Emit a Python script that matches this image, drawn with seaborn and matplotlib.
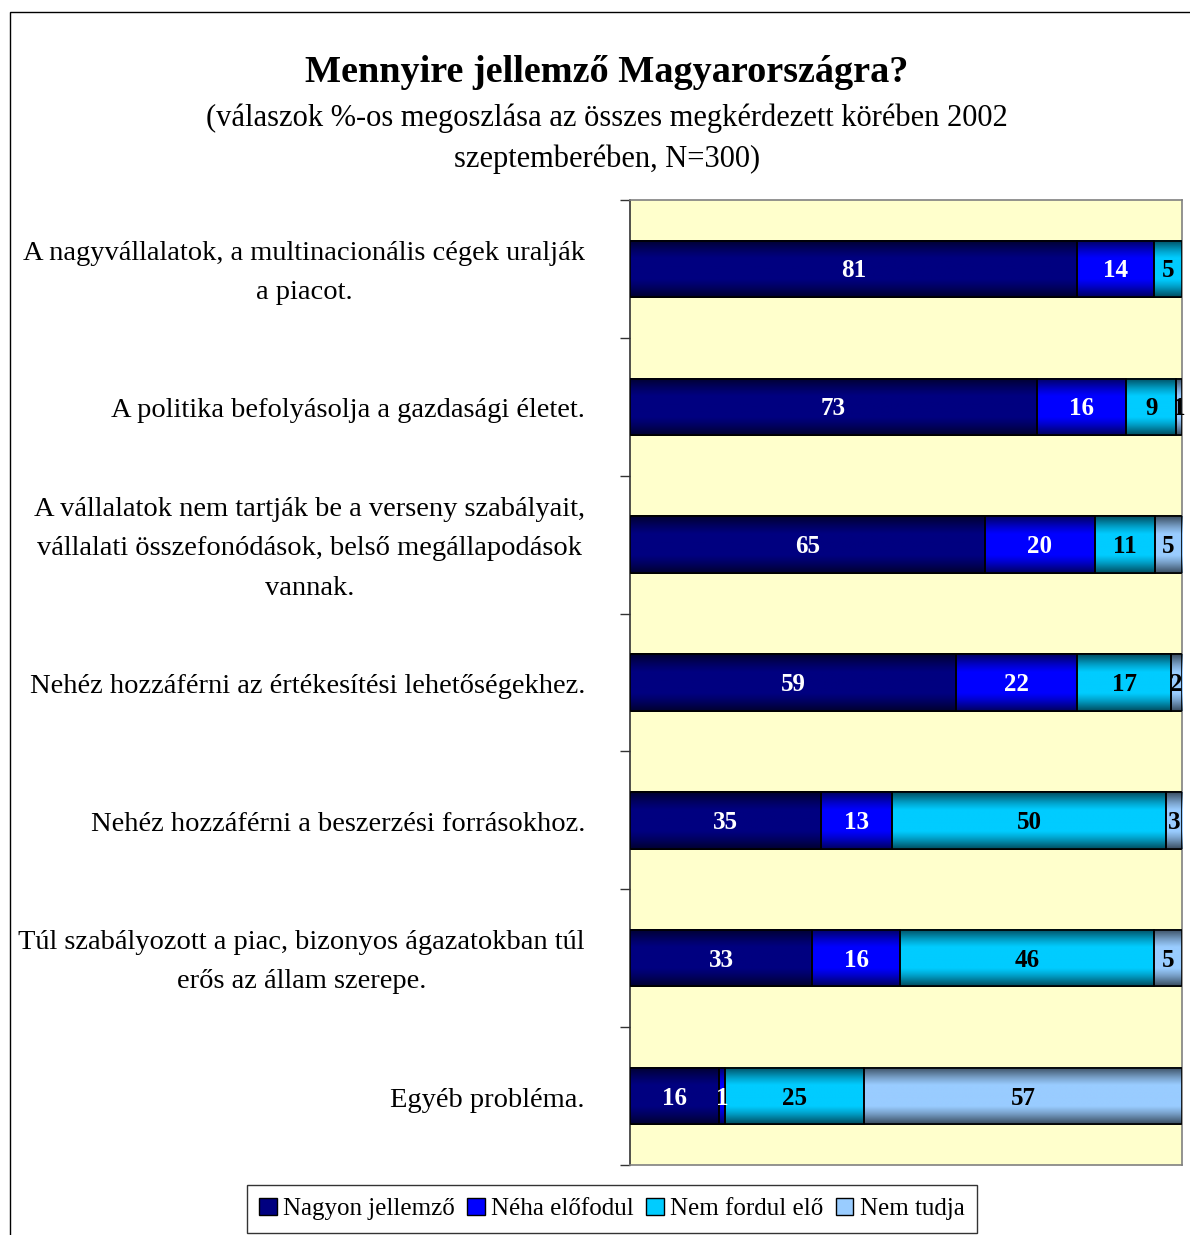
import numpy as np
import pandas as pd
import matplotlib
matplotlib.use("Agg")
import matplotlib.pyplot as plt
import matplotlib.colors as mcolors
import matplotlib.transforms as mtransforms
from matplotlib.patches import Rectangle
import seaborn as sns

categories = [
    "A nagyvállalatok, a multinacionális cégek uralják\na piacot.",
    "A politika befolyásolja a gazdasági életet.",
    "A vállalatok nem tartják be a verseny szabályait,\nvállalati összefonódások, belső megállapodások\nvannak.",
    "Nehéz hozzáférni az értékesítési lehetőségekhez.",
    "Nehéz hozzáférni a beszerzési forrásokhoz.",
    "Túl szabályozott a piac, bizonyos ágazatokban túl\nerős az állam szerepe.",
    "Egyéb probléma.",
]
series = ["Nagyon jellemző", "Néha előfodul", "Nem fordul elő", "Nem tudja"]
nagyon = [81, 73, 65, 59, 35, 33, 16]
neha = [14, 16, 20, 22, 13, 16, 1]
nem_fordul = [5, 9, 11, 17, 50, 46, 25]
nem_tudja = [0, 1, 5, 2, 3, 5, 57]

colors = ["#000080", "#0000FF", "#00CCFF", "#99CCFF"]
text_colors = ["white", "white", "black", "black"]

sns.set_style("white")
plt.rcParams['font.family'] = ['Liberation Serif', 'DejaVu Serif']
plt.rcParams['text.color'] = 'black'

vals = np.array([nagyon, neha, nem_fordul, nem_tudja], dtype=float).T
pct = vals / vals.sum(axis=1, keepdims=True) * 100  # 100% stacked like Excel
cum = pct.cumsum(axis=1)
labels_short = [f"c{i}" for i in range(len(categories))]

fig = plt.figure(figsize=(11.9, 12.35), dpi=100)
ax = fig.add_axes([630 / 1190, 1 - 1165 / 1235, 552 / 1190, 965 / 1235])
ax.set_facecolor("#FFFFCC")

bar_w = 0.41
for i in range(3, -1, -1):
    df = pd.DataFrame({"cat": labels_short, "val": cum[:, i]})
    sns.barplot(data=df, x="val", y="cat", orient="h", color=colors[i],
                width=bar_w, edgecolor="black", linewidth=1.2, ax=ax,
                saturation=1)

# gradient shading like the original Excel bars
t = np.linspace(0, 1, 64)
shade = 0.38 + 0.62 * np.clip(np.sin(np.pi * t) * 1.2, 0, 1)
for r in range(len(categories)):
    left = 0
    for i in range(4):
        w = pct[r, i]
        if w > 0:
            base = np.array(mcolors.to_rgb(colors[i]))
            img = (shade[:, None] * base[None, :])[:, None, :]
            ax.imshow(img, extent=[left, left + w, r + bar_w / 2, r - bar_w / 2],
                      aspect="auto", zorder=3, interpolation="bilinear")
            ax.add_patch(Rectangle((left, r - bar_w / 2), w, bar_w, fill=False,
                                   edgecolor="black", linewidth=1.2, zorder=4))
            if vals[r, i] > 0:
                ax.text(left + w / 2, r + 0.015, f"{vals[r, i]:.0f}", ha="center",
                        va="center", fontsize=18, fontweight="bold",
                        color=text_colors[i], zorder=5)
        left += w

ax.set_xlim(0, 100)
ax.set_ylim(len(categories) - 0.5, -0.5)
ax.set_xlabel("")
ax.set_ylabel("")
ax.set_xticks([])
ax.set_yticks(range(len(categories)))
ax.set_yticklabels([])
ax.tick_params(axis="y", which="major", length=0)

# category labels, right aligned, lines centred (like Excel)
trans = mtransforms.blended_transform_factory(ax.transAxes, ax.transData)
for r, lab in enumerate(categories):
    ax.text(-45 / 552, r + 0.03, lab, transform=trans, ha="right", va="center",
            multialignment="center", fontsize=20.5, linespacing=1.75)

ax.set_yticks(np.arange(-0.5, len(categories), 1), minor=True)
ax.tick_params(axis="y", which="minor", left=True, length=7.5, width=1, color="#333333",
               direction="out")
for s in ax.spines.values():
    s.set_color("#808080")
    s.set_linewidth(1.2)
ax.spines["left"].set_color("#333333")

fig.text(607 / 1190, 1 - 72 / 1235, "Mennyire jellemző Magyarországra?", ha="center",
         va="center", fontsize=27.5, fontweight="bold")
fig.text(607 / 1190, 1 - 139 / 1235,
         "(válaszok %-os megoszlása az összes megkérdezett körében 2002\nszeptemberében, N=300)",
         ha="center", va="center", fontsize=22, linespacing=1.5)

handles = [Rectangle((0, 0), 1, 1, facecolor=c, edgecolor="black") for c in colors]
fig.legend(handles, series, loc="center", bbox_to_anchor=(612 / 1190, 1 - 1209 / 1235),
           ncol=4, fontsize=18, frameon=True, fancybox=False, edgecolor="black",
           handlelength=0.7, handleheight=0.7, handletextpad=0.25, columnspacing=0.5,
           borderpad=0.5, borderaxespad=0)

fig.add_artist(Rectangle((10 / 1190, -0.05), 1.2, 1 - 12 / 1235 + 0.05, fill=False,
                         edgecolor="black", linewidth=1, transform=fig.transFigure))

fig.savefig("out.png", dpi=100)
